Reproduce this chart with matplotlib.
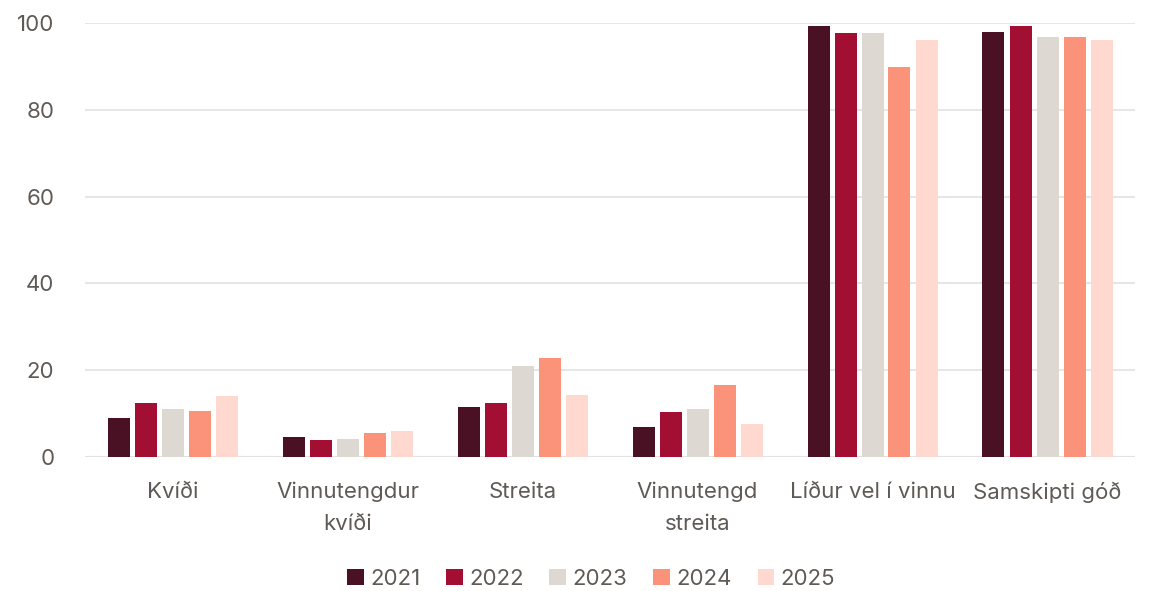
import numpy as np
import matplotlib.pyplot as plt

categories = ["Kvíði", "Vinnutengdur\nkvíði", "Streita", "Vinnutengd\nstreita",
              "Líður vel í vinnu", "Samskipti góð"]
years = ["2021", "2022", "2023", "2024", "2025"]
v2021 = [9.1, 4.5, 11.6, 7.0, 99.2, 98.0]
v2022 = [12.4, 3.9, 12.4, 10.3, 97.8, 99.2]
v2023 = [11.1, 4.1, 20.9, 11.1, 97.7, 96.8]
v2024 = [10.5, 5.5, 22.7, 16.7, 89.8, 96.8]
v2025 = [14.0, 5.9, 14.4, 7.5, 96.0, 96.0]
colors = ["#4A1125", "#A20F33", "#DDD9D2", "#FB937A", "#FFD8D0"]

plt.rcParams['font.family'] = ['Inter', 'DejaVu Sans']
text_col = "#5F5A55"

fig = plt.figure(figsize=(11.5, 5.91), dpi=100)
ax = fig.add_axes([85/1150, 1 - 457/591, 1050/1150, 434/591])

x = np.arange(len(categories))
slot = 27/175
width = 22/175
series = [v2021, v2022, v2023, v2024, v2025]
for i, (vals, c, yr) in enumerate(zip(series, colors, years)):
    ax.bar(x + (i - 2) * slot, vals, width, color=c, label=yr, zorder=3)

ax.set_xlim(-0.5, len(categories) - 0.5)
ax.set_ylim(0, 100)
ax.set_yticks(range(0, 101, 20))
ax.yaxis.grid(True, color="#E2E2E2", linewidth=1.2, zorder=0)
for s in ax.spines.values():
    s.set_visible(False)
ax.axhline(0, color="#E2E2E2", linewidth=1.5, zorder=1)
ax.set_xticks(x)
ax.set_xticklabels(categories, fontsize=16, color=text_col, linespacing=1.75)
ax.tick_params(axis='both', length=0, labelsize=16, colors=text_col)
ax.tick_params(axis='y', pad=22)
ax.tick_params(axis='x', pad=18)

leg = fig.legend(loc="lower center", ncol=5, frameon=False, bbox_to_anchor=(0.514, -0.03),
                 fontsize=16, handlelength=0.75, handleheight=0.75, handletextpad=0.3,
                 columnspacing=1.15)
for t in leg.get_texts():
    t.set_color(text_col)

fig.savefig("out.png", dpi=100)
